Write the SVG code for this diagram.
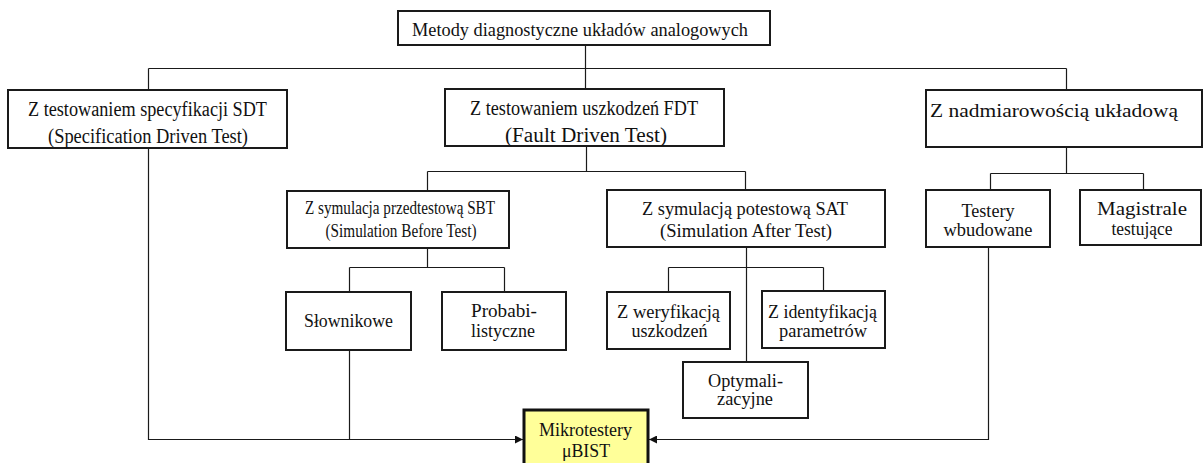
<svg xmlns="http://www.w3.org/2000/svg" width="1203" height="463" viewBox="0 0 1203 463">
  <style>
    .box { fill: #ffffff; stroke: #1a1a1a; stroke-width: 2; }
    .hl { fill: #ffff99; stroke: #111111; stroke-width: 3; }
    text { font-family: 'Liberation Serif', 'DejaVu Serif', 'Times New Roman', serif; fill: #111111; text-anchor: middle; }
    .s20 { font-size: 20px; }
    .s19 { font-size: 19px; }
    .s18 { font-size: 18px; }
    .wire { fill: none; stroke: #1a1a1a; stroke-width: 1.2; }
  </style>
  <defs>
    <marker id="arrow" viewBox="0 0 10 10" refX="10" refY="5" markerWidth="9" markerHeight="8" markerUnits="userSpaceOnUse" orient="auto">
      <path d="M0,0 L10,5 L0,10 Z" fill="#111111"/>
    </marker>
  </defs>

  <!-- connectors -->
  <g id="connectors" class="wire">
    <!-- root to first level -->
    <path d="M585.5,45 V68.5"/>
    <path d="M148.5,68.5 H1066.5"/>
    <path d="M148.5,68.5 V90"/>
    <path d="M585.5,68.5 V89"/>
    <path d="M1066.5,68.5 V90"/>
    <!-- FDT to SBT / SAT -->
    <path d="M586.5,146 V171.5"/>
    <path d="M427.5,171.5 H745.5"/>
    <path d="M427.5,171.5 V191"/>
    <path d="M745.5,171.5 V190"/>
    <!-- SBT children -->
    <path d="M427.5,248 V267.5"/>
    <path d="M349.5,267.5 H504.5"/>
    <path d="M349.5,267.5 V292"/>
    <path d="M504.5,267.5 V292"/>
    <!-- SAT children -->
    <path d="M746.5,247 V362"/>
    <path d="M668.5,267.5 H823.5"/>
    <path d="M668.5,267.5 V292"/>
    <path d="M823.5,267.5 V291"/>
    <!-- redundancy children -->
    <path d="M1066.5,147 V173.5"/>
    <path d="M990.5,173.5 H1143.5"/>
    <path d="M990.5,173.5 V190"/>
    <path d="M1143.5,173.5 V190"/>
    <!-- feeds into the micro-tester block -->
    <path d="M148.5,148 V439.5 H523" marker-end="url(#arrow)"/>
    <path d="M349.5,350 V439.5"/>
    <path d="M988.5,247 V439.5 H649" marker-end="url(#arrow)"/>
  </g>

  <g id="root">
    <rect class="box" x="398" y="11" width="372" height="34"/>
    <text class="s19" x="580" y="36" textLength="336" lengthAdjust="spacingAndGlyphs">Metody diagnostyczne układów analogowych</text>
  </g>

  <g id="sdt">
    <rect class="box" x="8" y="90" width="279" height="58"/>
    <text class="s20" x="147.5" y="115.5" textLength="239" lengthAdjust="spacingAndGlyphs">Z testowaniem specyfikacji SDT</text>
    <text class="s20" x="148" y="142.5" textLength="200" lengthAdjust="spacingAndGlyphs">(Specification Driven Test)</text>
  </g>

  <g id="fdt">
    <rect class="box" x="445" y="89" width="279" height="57"/>
    <text class="s20" x="584" y="114.5" textLength="228" lengthAdjust="spacingAndGlyphs">Z testowaniem uszkodzeń FDT</text>
    <text class="s20" x="586" y="141.5" textLength="162" lengthAdjust="spacingAndGlyphs">(Fault Driven Test)</text>
  </g>

  <g id="redundancy">
    <rect class="box" x="926" y="90" width="276" height="57"/>
    <text class="s19" x="1054" y="117" textLength="248" lengthAdjust="spacingAndGlyphs">Z nadmiarowością układową</text>
  </g>

  <g id="sbt">
    <rect class="box" x="287" y="191" width="222" height="57"/>
    <text class="s18" x="400" y="214" textLength="190" lengthAdjust="spacingAndGlyphs">Z symulacja przedtestową SBT</text>
    <text class="s18" x="401" y="237" textLength="151" lengthAdjust="spacingAndGlyphs">(Simulation Before Test)</text>
  </g>

  <g id="sat">
    <rect class="box" x="607" y="190" width="278" height="57"/>
    <text class="s18" x="745" y="215" textLength="206" lengthAdjust="spacingAndGlyphs">Z symulacją potestową SAT</text>
    <text class="s18" x="746" y="237" textLength="172" lengthAdjust="spacingAndGlyphs">(Simulation After Test)</text>
  </g>

  <g id="testery">
    <rect class="box" x="926" y="190" width="124" height="57"/>
    <text class="s18" x="988" y="217" textLength="53" lengthAdjust="spacingAndGlyphs">Testery</text>
    <text class="s18" x="988" y="236" textLength="89" lengthAdjust="spacingAndGlyphs">wbudowane</text>
  </g>

  <g id="magistrale">
    <rect class="box" x="1080" y="190" width="121" height="55"/>
    <text class="s18" x="1142" y="215" textLength="90" lengthAdjust="spacingAndGlyphs">Magistrale</text>
    <text class="s18" x="1142" y="235" textLength="61" lengthAdjust="spacingAndGlyphs">testujące</text>
  </g>

  <g id="slownikowe">
    <rect class="box" x="286" y="292" width="125" height="58"/>
    <text class="s18" x="348.5" y="327" textLength="89" lengthAdjust="spacingAndGlyphs">Słownikowe</text>
  </g>

  <g id="probabilistyczne">
    <rect class="box" x="442" y="292" width="124" height="58"/>
    <text class="s18" x="504" y="317" textLength="66" lengthAdjust="spacingAndGlyphs">Probabi-</text>
    <text class="s18" x="503" y="337" textLength="64" lengthAdjust="spacingAndGlyphs">listyczne</text>
  </g>

  <g id="weryfikacja">
    <rect class="box" x="607" y="292" width="123" height="57"/>
    <text class="s18" x="668.5" y="318" textLength="103" lengthAdjust="spacingAndGlyphs">Z weryfikacją</text>
    <text class="s18" x="669.5" y="337" textLength="76" lengthAdjust="spacingAndGlyphs">uszkodzeń</text>
  </g>

  <g id="identyfikacja">
    <rect class="box" x="762" y="291" width="123" height="57"/>
    <text class="s18" x="822.5" y="318" textLength="109" lengthAdjust="spacingAndGlyphs">Z identyfikacją</text>
    <text class="s18" x="823" y="337" textLength="88" lengthAdjust="spacingAndGlyphs">parametrów</text>
  </g>

  <g id="optymalizacyjne">
    <rect class="box" x="683" y="362" width="125" height="56"/>
    <text class="s18" x="745.5" y="387" textLength="75" lengthAdjust="spacingAndGlyphs">Optymali-</text>
    <text class="s18" x="745" y="405" textLength="56" lengthAdjust="spacingAndGlyphs">zacyjne</text>
  </g>

  <g id="mikrotestery">
    <rect class="hl" x="524" y="410" width="124" height="60"/>
    <text class="s18" x="585.5" y="436" textLength="93" lengthAdjust="spacingAndGlyphs">Mikrotestery</text>
    <text class="s18" x="586" y="457" textLength="48" lengthAdjust="spacingAndGlyphs">μBIST</text>
  </g>
</svg>
